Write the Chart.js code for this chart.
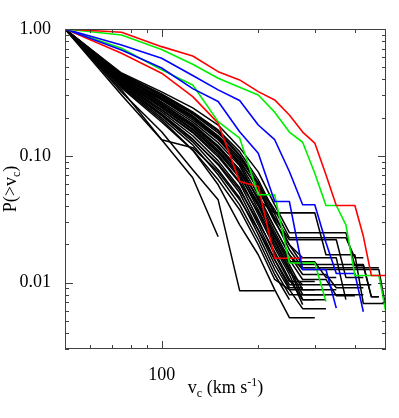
<!DOCTYPE html>
<html>
<head>
<meta charset="utf-8">
<script src="https://cdn.jsdelivr.net/npm/chart.js@4.4.1/dist/chart.umd.min.js"></script>
<style>
  html, body { margin: 0; padding: 0; background: #fff; }
  canvas { display: block; }
</style>
</head>
<body>
<canvas id="vcChart" width="399" height="418"></canvas>
<script>
// circular velocity bins (km/s)
const vGrid = [50, 75, 100, 125, 150, 175, 200, 225, 250, 275, 300, 325, 350, 375, 400, 425, 450, 475, 500];

// cumulative fractions P(>vc), coloured hosts
const red1   = [1, 0.942, 0.726, 0.613, 0.461, 0.397, 0.321, 0.276, 0.210, 0.154, 0.126, 0.071, 0.0406, 0.0406, 0.0406, 0.0232, 0.0114, 0.0114, 0.0114];
const green1 = [1, 0.897, 0.690, 0.527, 0.409, 0.348, 0.302, 0.221, 0.154, 0.128, 0.073, 0.0406, 0.0406, 0.0286, 0.0114, 0.0114, 0.0114, 0.0114, 0.0058];
const blue1  = [1, 0.748, 0.588, 0.430, 0.331, 0.273, 0.175, 0.134, 0.0752, 0.0411, 0.0411, 0.0207, 0.0118, 0.0118, 0.0118, 0.0059];
const blue2  = [1, 0.683, 0.493, 0.339, 0.268, 0.155, 0.105, 0.0437, 0.0437, 0.0127, 0.0127, 0.0127, 0.0063];
const green2 = [1, 0.705, 0.476, 0.362, 0.186, 0.138, 0.0493, 0.0493, 0.0143, 0.0143, 0.0143, 0.0071];
const red2   = [1, 0.644, 0.448, 0.293, 0.181, 0.0628, 0.0573, 0.0156, 0.0156, 0.0156];

// black hosts
const black01 = [1, 0.450, 0.319, 0.239, 0.175, 0.116, 0.0748, 0.0411, 0.0248, 0.0248, 0.0248, 0.0248, 0.0248, 0.0248, 0.0136, 0.0136, 0.00776, 0.00776];
const black02 = [1, 0.442, 0.308, 0.222, 0.160, 0.108, 0.0647, 0.0356, 0.0356, 0.0356, 0.0356, 0.0166, 0.0166, 0.0166, 0.0166, 0.00684, 0.00684, 0.00684, 0.00684];
const black03 = [1, 0.434, 0.297, 0.214, 0.152, 0.100, 0.0591, 0.0325, 0.0218, 0.0218, 0.0218, 0.0218, 0.0218, 0.0110, 0.0110, 0.0110];
const black04 = [1, 0.426, 0.286, 0.203, 0.141, 0.0930, 0.0540, 0.0302, 0.0199, 0.0139, 0.0139, 0.0139, 0.0139, 0.0139, 0.0139, 0.0139, 0.00776, 0.00776];
const black05 = [1, 0.419, 0.276, 0.192, 0.134, 0.0881, 0.0493, 0.0271, 0.0166, 0.0116, 0.0116, 0.0116, 0.00913, 0.00913, 0.00913, 0.00913];
const black06 = [1, 0.411, 0.266, 0.185, 0.127, 0.0834, 0.0450, 0.0252, 0.0152, 0.0106, 0.0106, 0.0106, 0.00790, 0.00790, 0.00790];
const black07 = [1, 0.404, 0.257, 0.179, 0.120, 0.0776, 0.0411, 0.0230, 0.0139, 0.00881, 0.00881, 0.00881, 0.00881];
const black08 = [1, 0.397, 0.247, 0.169, 0.111, 0.0722, 0.0376, 0.0210, 0.0127, 0.00735, 0.00735];
const black09 = [1, 0.390, 0.239, 0.160, 0.106, 0.0671, 0.0343, 0.0189, 0.0116, 0.00671];
const black10 = [1, 0.382, 0.230, 0.152, 0.0982, 0.0613, 0.0313, 0.0166, 0.0102, 0.0102, 0.0102];
const black11 = [1, 0.376, 0.222, 0.144, 0.0913, 0.0560, 0.0286, 0.0152, 0.00913, 0.00913];
const black12 = [1, 0.369, 0.214, 0.136, 0.0849, 0.0511, 0.0261, 0.0139, 0.00881, 0.00624, 0.00624, 0.00624];
const black13 = [1, 0.362, 0.207, 0.129, 0.0776, 0.0467, 0.0239, 0.0127, 0.00804, 0.00804, 0.00804, 0.00804];
const black14 = [1, 0.356, 0.199, 0.122, 0.0709, 0.0411, 0.0218, 0.0116, 0.00735];
const black15 = [1, 0.349, 0.192, 0.111, 0.0591, 0.0286, 0.0166, 0.00881, 0.00530, 0.00530, 0.00530];
const black16 = [1, 0.319, 0.155, 0.0776, 0.0450, 0.00865, 0.00865, 0.00865];
const black17 = [1, 0.302, 0.134, 0.0671, 0.0230];
const black18 = [1, 0.331, 0.134, 0.116, 0.0748, 0.0450, 0.0261, 0.0152, 0.00964, 0.00964];
const black19 = [1, 0.397, 0.276, 0.199, 0.139, 0.0849, 0.0450, 0.0356, 0.0356, 0.0356, 0.0356];
const black20 = [1, 0.411, 0.291, 0.207, 0.144, 0.0964, 0.0591, 0.0376, 0.0226, 0.0226, 0.0226, 0.0226, 0.0226, 0.0226, 0.0157, 0.0157];
const black21 = [1, 0.419, 0.281, 0.199, 0.136, 0.0897, 0.0560, 0.0313, 0.0182, 0.0131, 0.0131, 0.0131, 0.0131, 0.0131, 0.0131, 0.0131, 0.0131, 0.0131];
const black22 = [1, 0.390, 0.252, 0.172, 0.116, 0.0748, 0.0426, 0.0239, 0.0146, 0.0146, 0.0146, 0.0110, 0.0110];
const black23 = [1, 0.369, 0.230, 0.155, 0.102, 0.0624, 0.0362, 0.0199, 0.0122, 0.00964, 0.00964, 0.00964, 0.00964, 0.00964, 0.00964, 0.00964, 0.00964];
const black24 = [1, 0.404, 0.261, 0.175, 0.118, 0.0776, 0.0467, 0.0271, 0.0166, 0.0127, 0.0127, 0.0127, 0.0127, 0.0127, 0.0127, 0.0127, 0.0127, 0.0127, 0.00624];
const black25 = [1, 0.382, 0.243, 0.163, 0.108, 0.0696, 0.0404, 0.0218, 0.0131, 0.00804, 0.00804, 0.00804, 0.00804, 0.00804, 0.00804, 0.00804];
const black26 = [1, 0.356, 0.210, 0.134, 0.0865, 0.0540, 0.0302, 0.0175, 0.0106, 0.00735, 0.00735, 0.00735];
const black27 = [1, 0.434, 0.302, 0.218, 0.157, 0.102, 0.0613, 0.0349, 0.0199, 0.0157, 0.0157, 0.0157, 0.0157, 0.00735];
const black28 = [1, 0.343, 0.185, 0.111, 0.0647, 0.0376, 0.0199, 0.0106, 0.00881, 0.00881, 0.00881];

const blackCurves = [black01, black02, black03, black04, black05, black06, black07, black08, black09, black10,
  black11, black12, black13, black14, black15, black16, black17, black18, black19, black20,
  black21, black22, black23, black24, black25, black26, black27, black28];

// axis ticks
const yTickValues = [0.01, 0.1, 1];
const yTickLabels = ['0.01', '0.10', '1.00'];
const yMinorTicks = [0.003, 0.004, 0.005, 0.006, 0.007, 0.008, 0.009, 0.02, 0.03, 0.04, 0.05, 0.06, 0.07, 0.08, 0.09, 0.2, 0.3, 0.4, 0.5, 0.6, 0.7, 0.8, 0.9];
const xTickValues = [100];
const xTickLabels = ['100'];
const xMinorTicks = [60, 70, 80, 90, 200, 300, 400];

const serif = "'Liberation Serif', 'DejaVu Serif', serif";

function toPoints(arr) {
    return vGrid.map((v, i) => ({ x: v, y: i < arr.length ? arr[i] : null }));
}

function curve(arr, color, width) {
    return {
        data: toPoints(arr),
        borderColor: color,
        borderWidth: width,
        pointRadius: 0,
        fill: false,
        tension: 0,
        spanGaps: false,
        borderJoinStyle: 'round'
    };
}

// first datasets end up on top
const datasets = [
    curve(red1, '#ff0000', 1.6),
    curve(green1, '#00f000', 1.6),
    curve(blue1, '#0000ff', 1.6),
    curve(blue2, '#0000ff', 1.6),
    curve(green2, '#00f000', 1.6),
    curve(red2, '#ff0000', 1.6)
].concat(blackCurves.map(c => curve(c, '#000000', 1.5)));

// box, inward ticks and axis titles with sub/superscripts
const frameAndTitles = {
    id: 'frameAndTitles',
    afterDraw(chart) {
        const { ctx, chartArea: a, scales: { x, y } } = chart;
        ctx.save();
        ctx.strokeStyle = '#404040';
        ctx.lineWidth = 1;
        ctx.strokeRect(a.left + 0.5, a.top + 0.5, a.right - a.left - 1, a.bottom - a.top - 1);

        ctx.beginPath();
        const yTick = (v, len) => {
            const py = Math.round(y.getPixelForValue(v)) + 0.5;
            ctx.moveTo(a.left, py); ctx.lineTo(a.left + len, py);
            ctx.moveTo(a.right, py); ctx.lineTo(a.right - len, py);
        };
        const xTick = (v, len) => {
            const px = Math.round(x.getPixelForValue(v)) + 0.5;
            ctx.moveTo(px, a.bottom); ctx.lineTo(px, a.bottom - len);
            ctx.moveTo(px, a.top); ctx.lineTo(px, a.top + len);
        };
        yTickValues.forEach(v => yTick(v, 8));
        yMinorTicks.forEach(v => yTick(v, 4));
        xTickValues.forEach(v => xTick(v, 8));
        xMinorTicks.forEach(v => xTick(v, 4));
        ctx.stroke();

        ctx.fillStyle = '#000';
        ctx.textBaseline = 'alphabetic';
        ctx.textAlign = 'left';
        const big = '18px ' + serif;
        const small = '12px ' + serif;

        // x title: v_c (km s^-1)
        const xParts = [['v', big, 0], ['c', small, 4], [' (km s', big, 0], ['-1', small, -7], [')', big, 0]];
        let w = 0;
        xParts.forEach(p => { ctx.font = p[1]; w += ctx.measureText(p[0]).width; });
        let cx = (a.left + a.right) / 2 - w / 2;
        const base = 393;
        xParts.forEach(p => {
            ctx.font = p[1];
            ctx.fillText(p[0], cx, base + p[2]);
            cx += ctx.measureText(p[0]).width;
        });

        // y title: P(>v_c)
        const yParts = [['P(>v', big, 0], ['c', small, 4], [')', big, 0]];
        w = 0;
        yParts.forEach(p => { ctx.font = p[1]; w += ctx.measureText(p[0]).width; });
        ctx.translate(16, (a.top + a.bottom) / 2);
        ctx.rotate(-Math.PI / 2);
        cx = -w / 2;
        yParts.forEach(p => {
            ctx.font = p[1];
            ctx.fillText(p[0], cx, p[2]);
            cx += ctx.measureText(p[0]).width;
        });
        ctx.restore();
    }
};

const ctx = document.getElementById('vcChart').getContext('2d');
const chart = new Chart(ctx, {
    type: 'line',
    data: { datasets: datasets },
    options: {
        responsive: false,
        animation: false,
        devicePixelRatio: 1,
        layout: { padding: { top: 29, right: 13, left: 0, bottom: 0 } },
        plugins: {
            legend: { display: false },
            tooltip: { enabled: false }
        },
        scales: {
            x: {
                type: 'logarithmic',
                min: 50,
                max: 500,
                grid: { display: false },
                border: { display: false },
                afterBuildTicks: (scale) => { scale.ticks = xTickValues.map(v => ({ value: v })); },
                afterFit: (scale) => { scale.height = 69; },
                ticks: {
                    autoSkip: false,
                    maxRotation: 0,
                    padding: 7,
                    color: '#000',
                    font: { family: serif, size: 18 },
                    callback: (value) => {
                        const i = xTickValues.indexOf(value);
                        return i >= 0 ? xTickLabels[i] : '';
                    }
                }
            },
            y: {
                type: 'logarithmic',
                min: 0.003,
                max: 1,
                grid: { display: false },
                border: { display: false },
                afterBuildTicks: (scale) => { scale.ticks = yTickValues.map(v => ({ value: v })); },
                afterFit: (scale) => { scale.width = 65; },
                ticks: {
                    autoSkip: false,
                    padding: 6,
                    color: '#000',
                    font: { family: serif, size: 18 },
                    callback: (value) => {
                        const i = yTickValues.indexOf(value);
                        return i >= 0 ? yTickLabels[i] : '';
                    }
                }
            }
        }
    },
    plugins: [frameAndTitles]
});
</script>
</body>
</html>
